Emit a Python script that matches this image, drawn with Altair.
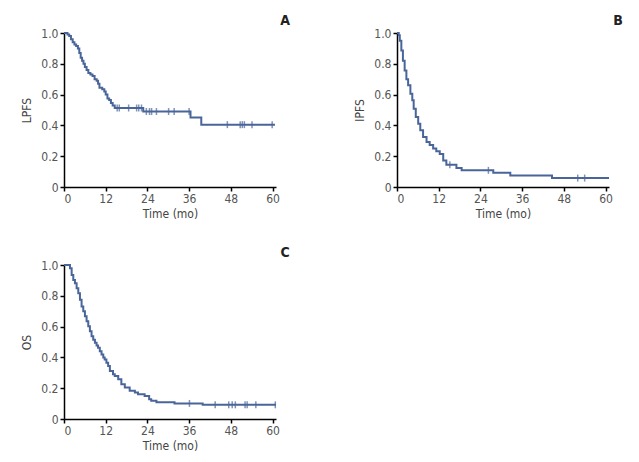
import altair as alt
import pandas as pd

# ---- Panel A : LPFS ----
A_time = [0, 1.0, 1.5, 2.0, 2.5, 3.0, 3.5, 4.0, 4.4, 4.8, 5.2, 5.6, 6.0, 6.5, 7.0, 7.6, 8.2, 8.8,
          9.4, 9.8, 10.2, 11.0, 11.6, 12.0, 12.5, 13.0, 13.5, 14.0, 14.6, 22.8, 36.4, 39.5, 60.7]
A_surv = [1.0, 0.99, 0.98, 0.96, 0.94, 0.925, 0.915, 0.90, 0.87, 0.84, 0.82, 0.80, 0.78, 0.76, 0.74,
          0.73, 0.72, 0.70, 0.69, 0.67, 0.645, 0.635, 0.62, 0.60, 0.575, 0.565, 0.545, 0.53, 0.513,
          0.49, 0.452, 0.405, 0.405]
A_cens = [15.3, 15.9, 18.6, 20.9, 21.5, 22.3, 23.7, 24.6, 25.2, 26.6, 30.1, 31.7, 36.0,
          47.0, 50.7, 51.3, 51.9, 54.1, 59.9]

# ---- Panel B : IPFS ----
B_time = [0, 0.5, 0.8, 1.25, 1.7, 2.2, 2.7, 3.2, 3.85, 4.4, 4.8, 5.4, 6.1, 6.7, 7.5, 8.5, 9.4,
          10.4, 11.3, 12.3, 13.3, 14.2, 17.1, 18.6, 27.7, 32.6, 44.6, 61.0]
B_surv = [1.0, 0.985, 0.95, 0.886, 0.82, 0.757, 0.70, 0.66, 0.605, 0.563, 0.508, 0.455, 0.41,
          0.369, 0.325, 0.293, 0.272, 0.25, 0.232, 0.215, 0.172, 0.144, 0.123, 0.108, 0.092,
          0.075, 0.058, 0.058]
B_cens = [15.2, 26.3, 52.0, 54.0]

# ---- Panel C : OS ----
C_time = [0, 1.72, 2.2, 2.67, 3.15, 3.63, 4.11, 4.59, 5.06, 5.54, 6.02, 6.5, 6.98, 7.45, 7.93,
          8.41, 8.9, 9.37, 9.8, 10.3, 10.8, 11.3, 11.7, 12.2, 12.7, 13.2, 14.1, 14.6, 15.6, 16.5,
          17.5, 18.9, 20.4, 21.3, 23.2, 24.5, 25.1, 26.6, 31.8, 39.9, 52.4, 61.0]
C_surv = [1.0, 0.979, 0.935, 0.903, 0.882, 0.849, 0.817, 0.774, 0.731, 0.699, 0.667, 0.634,
          0.602, 0.57, 0.538, 0.515, 0.495, 0.478, 0.462, 0.44, 0.419, 0.40, 0.387, 0.365,
          0.344, 0.312, 0.29, 0.279, 0.258, 0.226, 0.204, 0.183, 0.172, 0.161, 0.15, 0.129,
          0.118, 0.108, 0.101, 0.092, 0.092, 0.092]
C_cens = [36.1, 43.5, 47.4, 48.4, 49.3, 52.1, 52.7, 55.2, 60.8]

X_TICKS = [0, 12, 24, 36, 48, 60]
Y_TICKS = [0, 0.2, 0.4, 0.6, 0.8, 1.0]

FONT = "DejaVu Sans Condensed, Roboto, sans-serif"
LINE = "#4a6599"
W, H = 212, 154


def surv_at(times, survs, t):
    s = survs[0]
    for ti, si in zip(times, survs):
        if ti <= t:
            s = si
    return s


def panel(times, survs, cens, ytitle, letter):
    df = pd.DataFrame({"t": times, "s": survs})
    cdf = pd.DataFrame({"t": cens, "s": [surv_at(times, survs, c) for c in cens]})
    x = alt.X("t:Q", scale=alt.Scale(domain=[0, 61], nice=False, zero=False),
              axis=alt.Axis(values=X_TICKS, tickCount=12, title="Time (mo)", labelOverlap=False,
                            titlePadding=4))
    y = alt.Y("s:Q", scale=alt.Scale(domain=[0, 1], nice=False),
              axis=alt.Axis(values=Y_TICKS, tickCount=12, title=ytitle, labelOverlap=False,
                            labelFlush=False, titlePadding=7,
                            labelExpr="datum.value == 0 ? '0' : format(datum.value, '.1f')"))
    line = alt.Chart(df).mark_line(interpolate="step-after", color=LINE, strokeWidth=2).encode(x=x, y=y)
    ticks = alt.Chart(cdf).mark_tick(orient="vertical", color=LINE, size=7, thickness=1.5).encode(
        x=alt.X("t:Q"), y=alt.Y("s:Q"))
    lab = alt.Chart(pd.DataFrame({"l": [letter]})).mark_text(
        font=FONT, fontWeight="bold", fontSize=14, align="center", baseline="middle", color="#222"
    ).encode(x=alt.value(W + 9), y=alt.value(-12), text="l:N")
    return alt.layer(line, ticks, lab).properties(width=W, height=H)


pA = panel(A_time, A_surv, A_cens, "LPFS", "A")
pB = panel(B_time, B_surv, B_cens, "IPFS", "B")
pC = panel(C_time, C_surv, C_cens, "OS", "C")

chart = alt.vconcat(
    alt.hconcat(pA, pB, spacing=63),
    pC,
    spacing=27,
).properties(
    padding={"left": 12, "top": 6, "right": 5, "bottom": 5}
).configure_view(stroke=None).configure_axis(
    grid=False, domainColor="#000", domainWidth=1.5, tickColor="#000", tickWidth=1.5, tickSize=4,
    labelColor="#555", labelFont=FONT, labelFontSize=12, labelPadding=2, labelOverlap=False,
    titleColor="#444", titleFont=FONT, titleFontSize=12, titleFontWeight="normal",
)

chart.save("out.html", embed_options={"renderer": "svg", "actions": False})
